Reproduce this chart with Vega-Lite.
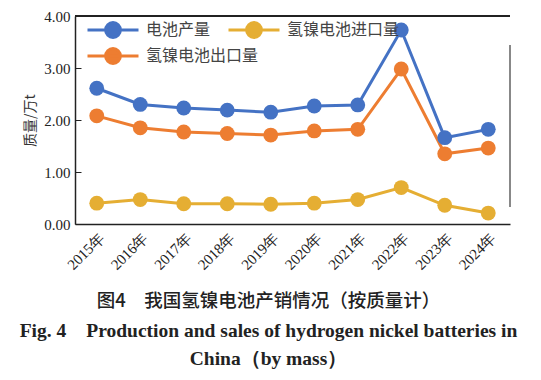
{
  "$schema": "https://vega.github.io/schema/vega-lite/v6.json",
  "width": 435,
  "height": 208,
  "autosize": "none",
  "padding": {"left": 75, "top": 16, "right": 31, "bottom": 156},
  "background": "white",
  "config": {"view": {"stroke": null}, "font": "Liberation Serif"},
  "title": {
    "text": "图4　我国氢镍电池产销情况（按质量计）",
    "orient": "bottom",
    "anchor": "middle",
    "frame": "group",
    "dx": -24,
    "offset": 20,
    "font": "Noto Sans CJK SC",
    "fontSize": 18.5,
    "fontWeight": 500,
    "color": "#222",
    "subtitle": ["Fig. 4　Production and sales of hydrogen nickel batteries in", "China（by mass）"],
    "subtitleFont": "Liberation Serif",
    "subtitleFontSize": 19.5,
    "subtitleFontWeight": "bold",
    "subtitleColor": "#222",
    "subtitleLineHeight": 28,
    "subtitlePadding": 11
  },
  "data": {
    "values": [
      {"year": "2015年", "series": "电池产量", "value": 2.61},
      {"year": "2016年", "series": "电池产量", "value": 2.30},
      {"year": "2017年", "series": "电池产量", "value": 2.23},
      {"year": "2018年", "series": "电池产量", "value": 2.19},
      {"year": "2019年", "series": "电池产量", "value": 2.15},
      {"year": "2020年", "series": "电池产量", "value": 2.27},
      {"year": "2021年", "series": "电池产量", "value": 2.29},
      {"year": "2022年", "series": "电池产量", "value": 3.73},
      {"year": "2023年", "series": "电池产量", "value": 1.66},
      {"year": "2024年", "series": "电池产量", "value": 1.82},
      {"year": "2015年", "series": "氢镍电池进口量", "value": 0.40},
      {"year": "2016年", "series": "氢镍电池进口量", "value": 0.47},
      {"year": "2017年", "series": "氢镍电池进口量", "value": 0.39},
      {"year": "2018年", "series": "氢镍电池进口量", "value": 0.39},
      {"year": "2019年", "series": "氢镍电池进口量", "value": 0.38},
      {"year": "2020年", "series": "氢镍电池进口量", "value": 0.40},
      {"year": "2021年", "series": "氢镍电池进口量", "value": 0.47},
      {"year": "2022年", "series": "氢镍电池进口量", "value": 0.70},
      {"year": "2023年", "series": "氢镍电池进口量", "value": 0.36},
      {"year": "2024年", "series": "氢镍电池进口量", "value": 0.21},
      {"year": "2015年", "series": "氢镍电池出口量", "value": 2.08},
      {"year": "2016年", "series": "氢镍电池出口量", "value": 1.85},
      {"year": "2017年", "series": "氢镍电池出口量", "value": 1.77},
      {"year": "2018年", "series": "氢镍电池出口量", "value": 1.74},
      {"year": "2019年", "series": "氢镍电池出口量", "value": 1.71},
      {"year": "2020年", "series": "氢镍电池出口量", "value": 1.79},
      {"year": "2021年", "series": "氢镍电池出口量", "value": 1.82},
      {"year": "2022年", "series": "氢镍电池出口量", "value": 2.98},
      {"year": "2023年", "series": "氢镍电池出口量", "value": 1.35},
      {"year": "2024年", "series": "氢镍电池出口量", "value": 1.46}
    ]
  },
  "encoding": {
    "x": {
      "field": "year",
      "type": "nominal",
      "scale": {"type": "band", "paddingInner": 0, "paddingOuter": 0},
      "axis": {
        "title": null,
        "labelAngle": -45,
        "labelFont": "Liberation Serif",
        "labelFontSize": 15,
        "labelColor": "#222",
        "ticks": false,
        "labelPadding": 6,
        "domainColor": "#222",
        "domainWidth": 1.5
      }
    },
    "y": {
      "field": "value",
      "type": "quantitative",
      "scale": {"domain": [0, 4], "nice": false},
      "axis": {
        "title": "质量/万t",
        "titleFont": "Noto Sans CJK SC",
        "titleFontSize": 14,
        "titleFontWeight": "normal",
        "titleColor": "#333",
        "titlePadding": 6,
        "values": [0, 1, 2, 3, 4],
        "format": ".2f",
        "grid": false,
        "labelFont": "Liberation Serif",
        "labelFontSize": 15,
        "labelColor": "#222",
        "domainColor": "#222",
        "domainWidth": 1.5,
        "tickColor": "#222",
        "tickSize": -6,
        "labelPadding": 11
      }
    },
    "color": {
      "field": "series",
      "type": "nominal",
      "scale": {
        "domain": ["电池产量", "氢镍电池进口量", "氢镍电池出口量"],
        "range": ["#4472C4", "#E5AE33", "#ED7D31"]
      },
      "legend": {
        "title": null,
        "orient": "none",
        "legendX": 11,
        "legendY": -13,
        "direction": "horizontal",
        "columns": 2,
        "gridAlign": "none",
        "symbolType": "M-1,0H1M0.29,0A0.29,0.29,0,1,1,-0.29,0A0.29,0.29,0,1,1,0.29,0Z",
        "symbolSize": 2601,
        "symbolStrokeWidth": 3,
        "symbolOpacity": 1,
        "labelFont": "Noto Sans CJK SC",
        "labelFontSize": 16,
        "labelColor": "#444",
        "labelOffset": 6,
        "columnPadding": -37,
        "rowPadding": -15
      }
    }
  },
  "layer": [
    {"mark": {"type": "line", "strokeWidth": 3}},
    {"mark": {"type": "point", "filled": true, "size": 220, "opacity": 1}},
    {
      "mark": {"type": "rule", "color": "#888", "strokeWidth": 1.5},
      "encoding": {
        "x": {"datum": "2024年", "type": "nominal", "bandPosition": 1},
        "y": {"datum": 0.33},
        "y2": {"datum": 3.44},
        "color": null
      }
    },
    {
      "mark": {"type": "rule", "color": "#222", "strokeWidth": 1.5},
      "encoding": {"y": {"datum": 4}, "x": null, "color": null}
    }
  ]
}
